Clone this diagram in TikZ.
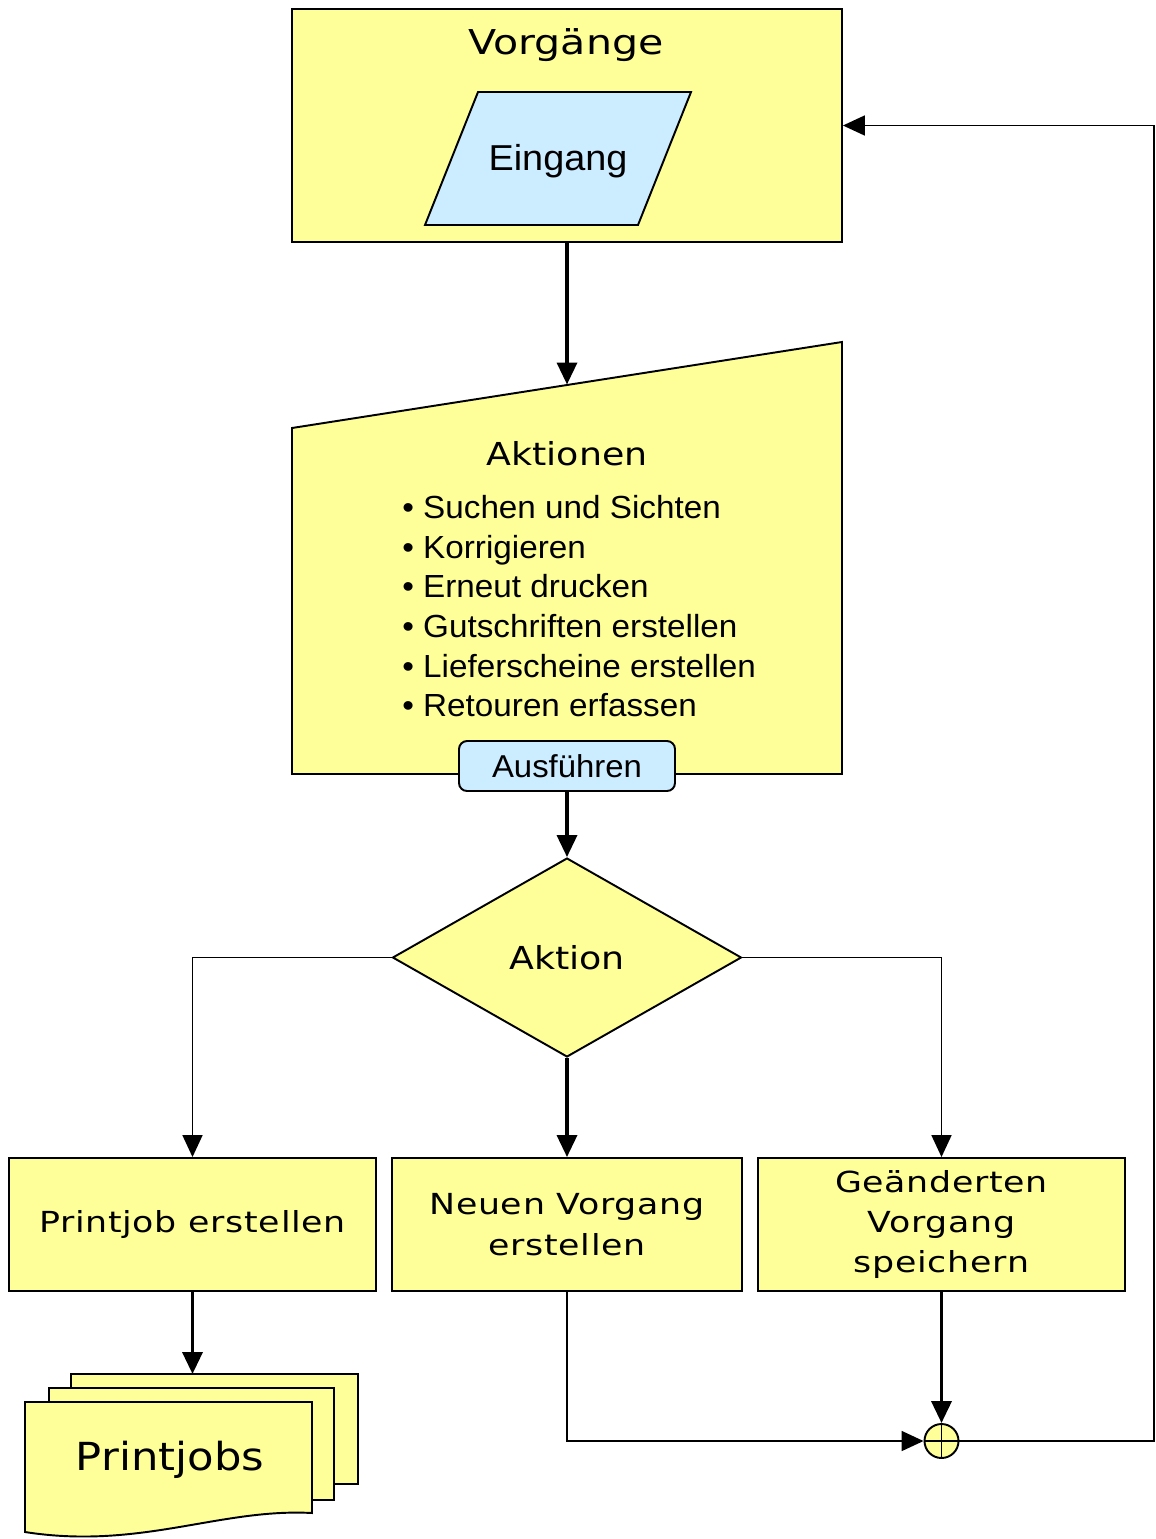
\documentclass[tikz,border=0pt]{standalone}
\usepackage{fontspec}
\usepackage{graphicx}
\setmainfont{Liberation Sans}
\newfontfamily\vera{DejaVu Sans}
\newfontfamily\veraspaced{DejaVu Sans}[LetterSpace=2]
\usetikzlibrary{shapes.geometric, arrows.meta, calc}
\definecolor{paleyellow}{RGB}{255,255,153}
\definecolor{paleblue}{RGB}{204,236,255}
\newcommand{\wide}[2][1.2]{\scalebox{#1}[1]{#2}}
\tikzset{
    shapeline/.style={draw, line width=1.1pt},
    box/.style={shapeline, fill=paleyellow, rectangle, inner sep=0pt},
    boxtext/.style={font=\veraspaced\fontsize{16.5}{23}\selectfont, align=center},
    button/.style={shapeline, fill=paleblue, rectangle, rounded corners=0.16cm, inner sep=0pt},
    flow/.style={line width=1pt, -{Triangle[length=0.44cm, width=0.4cm]}},
    mainflow/.style={flow, line width=2pt},
}

\begin{document}
\begin{tikzpicture}[x=0.02cm, y=-0.02cm]
    \tikzset{
      titlefont/.style={font=\vera\fontsize{18}{22}\selectfont},
      listfont/.style={font=\fontsize{18.2}{22}\selectfont}
    }
    \useasboundingbox (0,0) rectangle (1156,1539);

    \node[box, minimum width=11cm, minimum height=4.66cm] (vorg) at (567,125.5) {};
    \node[anchor=base, font=\vera\fontsize{19.5}{23}\selectfont] (vorgtitle) at (566,54) {\wide[1.2]{Vorgänge}};
    \draw[shapeline, fill=paleblue] (425,225) -- (478,92) -- (691,92) -- (638,225) -- cycle;
    \node[anchor=base, font=\fontsize{20.5}{24}\selectfont] (eingang) at (558,170) {\wide[1.05]{Eingang}};

    \draw[shapeline, fill=paleyellow] (292,428) -- (842,342) -- (842,774) -- (292,774) -- cycle;
    \coordinate (akttop) at (567,384.5);
    \draw[mainflow] (vorg.south) -- (akttop);
    \node[anchor=base, titlefont] (akttitle) at (567,465) {\wide[1.15]{Aktionen}};
    \foreach \entry [count=\i from 0] in {Suchen und Sichten, Korrigieren, Erneut drucken,
        Gutschriften erstellen, Lieferscheine erstellen, Retouren erfassen}
      \node[anchor=base west, listfont, inner sep=0pt] (item\i) at (402,{518.3+39.7*\i}) {\wide[1.04]{\textbullet\ \entry}};
    \node[button, minimum width=4.32cm, minimum height=1cm, font=\fontsize{18}{21}\selectfont] (ausf) at (567,766) {\wide[1.04]{Ausführen}};

    \node[diamond, shapeline, fill=paleyellow, minimum width=6.98cm, minimum height=3.98cm, inner sep=0pt, titlefont] (aktion) at (567,957.5) {\wide[1.15]{Aktion}};
    \draw[mainflow] (ausf.south) -- (aktion.north);

    \node[box, boxtext, minimum width=7.34cm, minimum height=2.66cm] (printjob) at (192.5,1224.5) {\wide{Printjob erstellen}};
    \node[box, boxtext, minimum width=7cm, minimum height=2.66cm] (neu) at (567,1224.5) {\wide{Neuen Vorgang}\\\wide{erstellen}};
    \node[box, boxtext, minimum width=7.34cm, minimum height=2.66cm] (geaendert) at (941.5,1224.5) {\wide{Geänderten}\\\wide{Vorgang}\\\wide{speichern}};
    \draw[flow] (aktion.west) -| (printjob.north);
    \draw[mainflow] (aktion.south) -- (neu.north);
    \draw[flow] (aktion.east) -| (geaendert.north);

    % stack of printjobs
    \draw[shapeline, fill=paleyellow] (71,1374) rectangle (358,1484);
    \draw[shapeline, fill=paleyellow] (49,1388) rectangle (334,1500);
    \draw[shapeline, fill=paleyellow] (25,1402) -- (312,1402) -- (312,1513)
      .. controls (220,1508) and (140,1550) .. (25,1532) -- cycle;
    \coordinate (pjtop) at (192.5,1374);
    \draw[mainflow] (printjob.south) -- (pjtop);
    \node[anchor=base, font=\vera\fontsize{22}{26}\selectfont] (printjobs) at (170,1470) {\wide[1.12]{Printjobs}};

    \node[circle, shapeline, fill=paleyellow, minimum size=0.68cm, inner sep=0pt,
      path picture={\draw[line width=1.1pt] (path picture bounding box.north) -- (path picture bounding box.south)
        (path picture bounding box.west) -- (path picture bounding box.east);}] (orjoin) at (941.5,1441) {};
    \draw[flow] (neu.south) |- (orjoin.west);
    \draw[mainflow] (geaendert.south) -- (orjoin.north);
    \coordinate (loopturn) at (1154,1441);
    \draw[flow] (orjoin.east) -- (loopturn) |- (vorg.east);
\end{tikzpicture}
\end{document}
